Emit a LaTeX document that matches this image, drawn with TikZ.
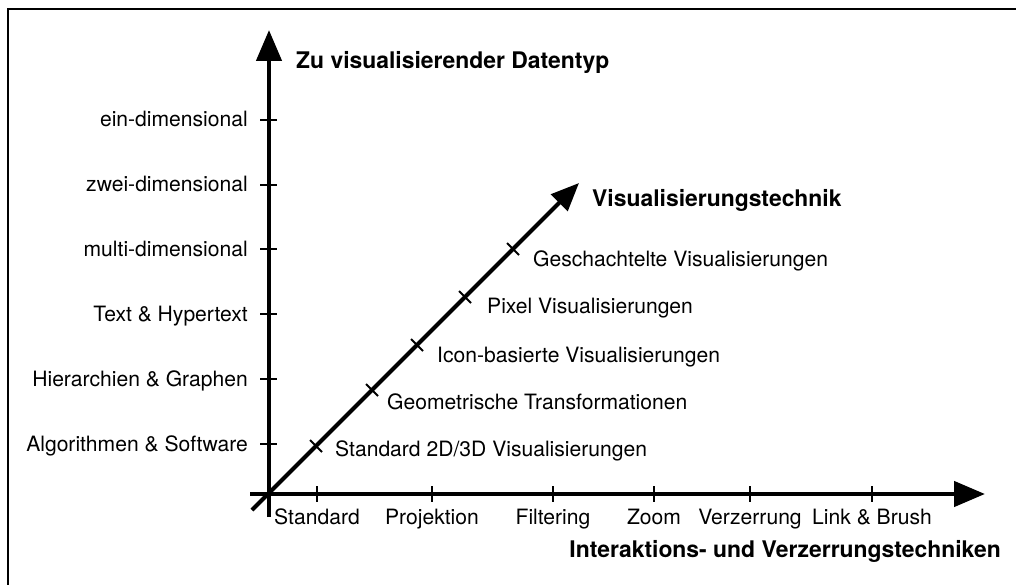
\documentclass[tikz,border=0pt]{standalone}
\usepackage{fontspec}
\setmainfont{TeX Gyre Heros}
\usepackage{tikz}
\usetikzlibrary{arrows.meta, positioning}
\tikzstyle{axis} = [line width=4.5pt, -{Triangle[length=31pt, width=25pt]}]
\tikzstyle{axtick} = [line width=2pt]
\tikzstyle{txt} = [inner sep=0pt, font=\fontsize{21.1}{25}\selectfont]
\tikzstyle{headtxt} = [inner sep=0pt, font=\fontsize{22.9}{27}\selectfont\bfseries]

\begin{document}
\begin{tikzpicture}[x=1pt, y=-1pt]
            \useasboundingbox (0,0) rectangle (1016,585);
            % frame, open to the right and bottom
            \draw [line width=1.5pt] (8,585) -- (8,9) -- (1016,9);

            \coordinate (ybottom) at (269,517);
            \coordinate (ytop) at (269,30);
            \coordinate (xleft) at (250,494);
            \coordinate (xright) at (985,494);
            \coordinate (dstart) at (252,510);
            \coordinate (dtop) at (579,183);

            \draw [axis] (ybottom) -- (ytop);
            \draw [axis] (xleft) -- (xright);
            \draw [axis, line width=4pt, -{Triangle[length=28pt, width=23pt]}] (dstart) -- (dtop);

            % data types
            \coordinate (y1) at (269,444);
            \coordinate (y2) at (269,379);
            \coordinate (y3) at (269,314);
            \coordinate (y4) at (269,249);
            \coordinate (y5) at (269,185);
            \coordinate (y6) at (269,120);
            \draw [axtick] (y1) ++(-9,0) -- ++(17,0);
            \draw [axtick] (y2) ++(-9,0) -- ++(17,0);
            \draw [axtick] (y3) ++(-9,0) -- ++(17,0);
            \draw [axtick] (y4) ++(-9,0) -- ++(17,0);
            \draw [axtick] (y5) ++(-9,0) -- ++(17,0);
            \draw [axtick] (y6) ++(-9,0) -- ++(17,0);
            \node [txt, anchor=base east] (ylab1) at (248,451) {Algorithmen \& Software};
            \node [txt, anchor=base east] (ylab2) at (248,386) {Hierarchien \& Graphen};
            \node [txt, anchor=base east] (ylab3) at (248,321) {Text \& Hypertext};
            \node [txt, anchor=base east] (ylab4) at (248,256) {multi-dimensional};
            \node [txt, anchor=base east] (ylab5) at (248,192) {zwei-dimensional};
            \node [txt, anchor=base east] (ylab6) at (248,127) {ein-dimensional};
            \node [headtxt, anchor=base west] (ytitle) at (296,69) {Zu visualisierender Datentyp};

            % interaction techniques
            \coordinate (x1) at (317,494);
            \coordinate (x2) at (432,494);
            \coordinate (x3) at (553,494);
            \coordinate (x4) at (654,494);
            \coordinate (x5) at (750,494);
            \coordinate (x6) at (872,494);
            \draw [axtick] (x1) ++(0,-8) -- ++(0,16);
            \draw [axtick] (x2) ++(0,-8) -- ++(0,16);
            \draw [axtick] (x3) ++(0,-8) -- ++(0,16);
            \draw [axtick] (x4) ++(0,-8) -- ++(0,16);
            \draw [axtick] (x5) ++(0,-8) -- ++(0,16);
            \draw [axtick] (x6) ++(0,-8) -- ++(0,16);
            \node [txt, anchor=base] (xlab1) at (317,524) {Standard};
            \node [txt, anchor=base] (xlab2) at (432,524) {Projektion};
            \node [txt, anchor=base] (xlab3) at (553,524) {Filtering};
            \node [txt, anchor=base] (xlab4) at (654,524) {Zoom};
            \node [txt, anchor=base] (xlab5) at (750,524) {Verzerrung};
            \node [txt, anchor=base] (xlab6) at (872,524) {Link \& Brush};
            \node [headtxt, anchor=base east] (xtitle) at (1001,557) {Interaktions- und Verzerrungstechniken};

            % visualisation techniques
            \coordinate (d1) at (316,446);
            \coordinate (d2) at (372,390);
            \coordinate (d3) at (417,345);
            \coordinate (d4) at (465,297);
            \coordinate (d5) at (513,249);
            \draw [axtick] (d1) ++(-6,-6) -- ++(12,12);
            \draw [axtick] (d2) ++(-6,-6) -- ++(12,12);
            \draw [axtick] (d3) ++(-6,-6) -- ++(12,12);
            \draw [axtick] (d4) ++(-6,-6) -- ++(12,12);
            \draw [axtick] (d5) ++(-6,-6) -- ++(12,12);
            \node [txt, anchor=base west] (dlab1) at (335,456) {Standard 2D/3D Visualisierungen};
            \node [txt, anchor=base west] (dlab2) at (387,409) {Geometrische Transformationen};
            \node [txt, anchor=base west] (dlab3) at (437,362) {Icon-basierte Visualisierungen};
            \node [txt, anchor=base west] (dlab4) at (487,313) {Pixel Visualisierungen};
            \node [txt, anchor=base west] (dlab5) at (533,266) {Geschachtelte Visualisierungen};
            \node [headtxt, anchor=base west] (dtitle) at (592,207) {Visualisierungstechnik};
          \end{tikzpicture}
\end{document}
